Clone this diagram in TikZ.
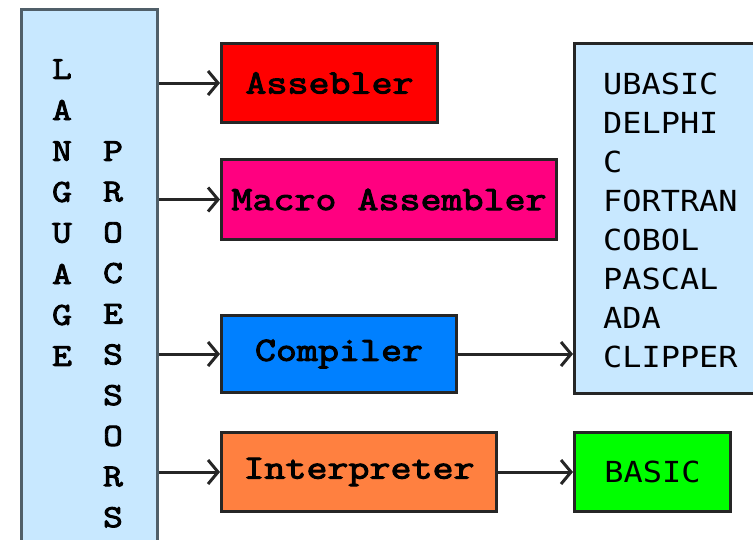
\documentclass[tikz,border=0pt]{standalone}
\usepackage{fontspec}
\usetikzlibrary{arrows.meta}
\newfontfamily\listfont{DejaVu Sans Mono}[FakeStretch=1.1]
\newfontfamily\boxfont{Latin Modern Mono}[FakeBold=3,FakeStretch=1.2]
\definecolor{lpblue}{RGB}{200,232,255}
\definecolor{asmred}{RGB}{255,0,0}
\definecolor{macpink}{RGB}{255,0,128}
\definecolor{compblue}{RGB}{0,128,255}
\definecolor{intorange}{RGB}{255,128,64}
\definecolor{basgreen}{RGB}{0,255,0}
\definecolor{lpborder}{RGB}{80,95,105}
\tikzset{
  box/.style={draw=black!85, line width=3pt, anchor=north west, inner sep=0pt,
    font=\boxfont\fontsize{34}{40}\selectfont},
  lpletter/.style={inner sep=0pt, font=\boxfont\fontsize{32}{40}\selectfont},
  listitem/.style={inner sep=0pt, anchor=west, font=\listfont\fontsize{29}{39}\selectfont},
  arr/.style={line width=3pt, draw=black!85, -{Straight Barb[length=10pt,width=24pt]}}
}
\begin{document}
\begin{tikzpicture}[x=1pt,y=-1pt]
\useasboundingbox (0,0) rectangle (753,539);
\clip (0,0) rectangle (753,539);
% left box
\node[draw=lpborder, fill=lpblue, line width=3pt, anchor=north west, inner sep=0pt,
      minimum width=136pt, minimum height=560pt] (lp) at (20,8) {};
\foreach \ch [count=\i] in {L,A,N,G,U,A,G,E}
  \node[lpletter] (l\i) at (62, 69+41*\i-41) {\ch};
\foreach \ch [count=\i] in {P,R,O,C,E,S,S,O,R,S}
  \node[lpletter] (p\i) at (113, 151+40.7*\i-40.7) {\ch};
% boxes
\node[box, fill=asmred, minimum width=216pt, minimum height=79pt] (asm) at (220,42) {Assebler};
\node[box, fill=macpink, minimum width=335pt, minimum height=80pt] (mac) at (220,158) {Macro Assembler};
\node[box, fill=compblue, minimum width=235pt, minimum height=77pt] (comp) at (220,314) {Compiler};
\node[box, fill=intorange, minimum width=275pt, minimum height=79pt] (interp) at (220,431) {Interpreter};
\node[draw=black!85, line width=3pt, fill=basgreen, anchor=north west, inner sep=0pt,
      minimum width=156pt, minimum height=79pt,
      font=\listfont\fontsize{29}{39}\selectfont] (basic) at (573,431) {BASIC};
\node[draw=black!85, line width=3pt, fill=lpblue, anchor=north west, inner sep=0pt,
      minimum width=200pt, minimum height=350pt] (list) at (573,42) {};
\foreach \t [count=\i] in {UBASIC,DELPHI,C,FORTRAN,COBOL,PASCAL,ADA,CLIPPER}
  \node[listitem] (li\i) at (603, 84+39*\i-39) {\t};
% connectors
\draw[arr] (lp.east |- asm.west) -- (asm.west);
\draw[arr] (lp.east |- mac.west) -- (mac.west);
\draw[arr] (lp.east |- comp.west) -- (comp.west);
\draw[arr] (lp.east |- interp.west) -- (interp.west);
\draw[arr] (comp.east) -- (list.west |- comp.east);
\draw[arr] (interp.east) -- (basic.west);
\end{tikzpicture}
\end{document}
